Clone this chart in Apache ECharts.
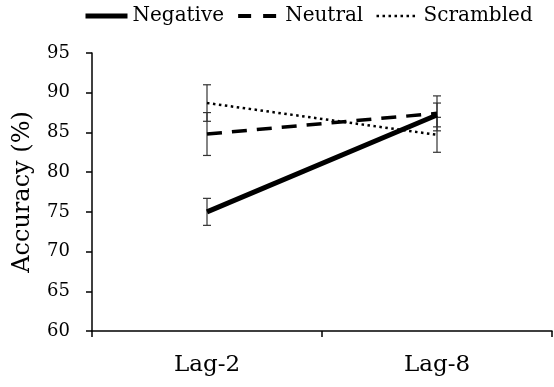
<!DOCTYPE html>
<html>
<head>
<meta charset="utf-8">
<script src="https://cdn.jsdelivr.net/npm/echarts@6/dist/echarts.min.js"></script>
<style>html,body{margin:0;padding:0;background:#fff}#c{width:554px;height:387px}</style>
</head>
<body>
<div id="c"></div>
<script>
const categories = ['Lag-2', 'Lag-8'];
const yTicks = [60, 65, 70, 75, 80, 85, 90, 95];
const negative = [75.0, 87.2];
const negativeErr = [1.7, 1.5];
const neutral = [84.8, 87.4];
const neutralErr = [2.7, 2.2];
const scrambled = [88.7, 84.7];
const scrambledErr = [2.3, 2.2];

const FONT = 'DejaVu Serif';

function errData(vals, errs) {
  return vals.map((v, i) => [i, v - errs[i], v + errs[i]]);
}
function errSeries(vals, errs) {
  return {
    type: 'custom',
    data: errData(vals, errs),
    z: 1,
    silent: true,
    renderItem: function (params, api) {
      const x = api.value(0);
      const lo = api.coord([x, api.value(1)]);
      const hi = api.coord([x, api.value(2)]);
      const w = 4;
      const st = { stroke: '#333', lineWidth: 1.2 };
      return {
        type: 'group',
        children: [
          { type: 'line', shape: { x1: lo[0], y1: lo[1], x2: hi[0], y2: hi[1] }, style: st },
          { type: 'line', shape: { x1: lo[0] - w, y1: lo[1], x2: lo[0] + w, y2: lo[1] }, style: st },
          { type: 'line', shape: { x1: hi[0] - w, y1: hi[1], x2: hi[0] + w, y2: hi[1] }, style: st }
        ]
      };
    }
  };
}

const styles = {
  Negative: { color: '#000', width: 5, type: 'solid' },
  Neutral: { color: '#000', width: 3.5, type: [15, 10] },
  Scrambled: { color: '#000', width: 2.5, type: [2.5, 3.5] }
};
const legendStyles = {
  Negative: { color: '#000', width: 5, type: 'solid' },
  Neutral: { color: '#000', width: 4, type: [13, 12] },
  Scrambled: { color: '#000', width: 2.5, type: [2.5, 3.5] }
};

const chart = echarts.init(document.getElementById('c'));
chart.setOption({
  animation: false,
  backgroundColor: '#fff',
  legend: {
    left: 83,
    top: 6,
    padding: 0,
    itemWidth: 42,
    itemHeight: 14,
    itemGap: 12,
    data: ['Negative', 'Neutral', 'Scrambled'].map(n => ({
      name: n,
      lineStyle: legendStyles[n],
      itemStyle: { opacity: 0 }
    })),
    textStyle: { fontFamily: FONT, fontSize: 20, color: '#000' }
  },
  grid: { left: 92, right: 2, top: 53, bottom: 56, containLabel: false },
  xAxis: {
    type: 'category',
    data: categories,
    boundaryGap: true,
    axisLine: { lineStyle: { color: '#000', width: 1.5 } },
    axisTick: { show: true, length: 6, lineStyle: { color: '#000', width: 1.5 } },
    axisLabel: { fontFamily: FONT, fontSize: 23, color: '#000', margin: 23 },
    splitLine: { show: false }
  },
  yAxis: {
    type: 'value',
    min: yTicks[0],
    max: yTicks[yTicks.length - 1],
    interval: 5,
    name: 'Accuracy (%)',
    nameLocation: 'middle',
    nameGap: 57,
    nameTextStyle: { fontFamily: FONT, fontSize: 24, color: '#000' },
    axisLine: { show: true, lineStyle: { color: '#000', width: 1.5 } },
    axisTick: { show: true, length: 6, lineStyle: { color: '#000', width: 1.5 } },
    axisLabel: { fontFamily: FONT, fontSize: 18, color: '#000', margin: 22 },
    splitLine: { show: false }
  },
  series: [
    errSeries(negative, negativeErr),
    errSeries(neutral, neutralErr),
    errSeries(scrambled, scrambledErr),
    {
      name: 'Negative', type: 'line', data: negative, symbol: 'none', z: 3,
      lineStyle: styles.Negative, itemStyle: { color: '#000' }
    },
    {
      name: 'Neutral', type: 'line', data: neutral, symbol: 'none', z: 3,
      lineStyle: styles.Neutral, itemStyle: { color: '#000' }
    },
    {
      name: 'Scrambled', type: 'line', data: scrambled, symbol: 'none', z: 3,
      lineStyle: styles.Scrambled, itemStyle: { color: '#000' }
    }
  ]
});
</script>
</body>
</html>
